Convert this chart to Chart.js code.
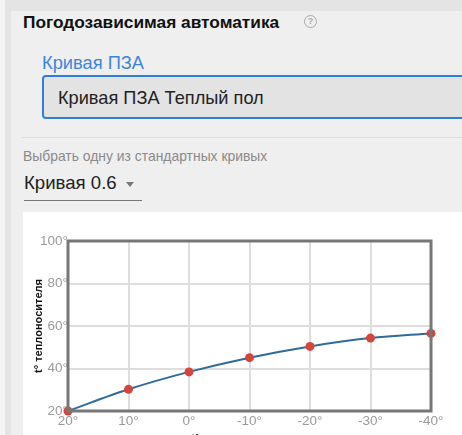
<!DOCTYPE html>
<html lang="ru">
<head>
<meta charset="utf-8">
<script src="https://cdn.jsdelivr.net/npm/chart.js@4/dist/chart.umd.min.js"></script>
<style>
  html, body { margin: 0; padding: 0; }
  body {
    width: 462px; height: 435px; overflow: hidden; position: relative;
    background: #e4e4e4; font-family: "Liberation Sans", Arial, sans-serif;
  }
  .strip { position: absolute; left: 0; top: 0; width: 5px; height: 435px; background: #f3f3f3; }
  .panel { position: absolute; left: 11px; top: 11px; right: 0; bottom: 0; background: #efefef; }
  .abs { position: absolute; white-space: nowrap; line-height: 1; }
  #title { left: 23px; top: 14px; font-size: 17.3px; font-weight: bold; color: #111; }
  #help {
    left: 304px; top: 15px; width: 11px; height: 11px; border: 1.5px solid #aaa; border-radius: 50%;
    font-size: 9px; font-weight: bold; color: #aaa; text-align: center; line-height: 11px;
  }
  #curveLabel { left: 42px; top: 54px; font-size: 18.3px; color: #3d86d6; }
  #curveBox {
    left: 42px; top: 75px; width: 440px; height: 44px; border: 2px solid #2f7fd8; border-radius: 4px;
    background: #e3e3e3; box-sizing: border-box;
  }
  #curveValue { left: 58px; top: 89px; font-size: 18.2px; color: #222; }
  #divider { left: 22px; top: 137px; width: 440px; height: 1px; background: #dcdcdc; }
  #hint { left: 23px; top: 150px; font-size: 13.9px; color: #8a8a8a; }
  #preset { left: 24px; top: 174px; font-size: 18.6px; color: #222; }
  #arrow {
    left: 126px; top: 182px; width: 0; height: 0;
    border-left: 4.5px solid transparent; border-right: 4.5px solid transparent; border-top: 5px solid #777;
  }
  #underline { left: 24px; top: 200px; width: 118px; height: 1px; background: #777; }
  #chartBox { position: absolute; left: 23px; top: 212px; width: 439px; height: 238px; background: #fff; }
</style>
</head>
<body>
<div class="strip"></div>
<div class="panel"></div>
<div class="abs" id="title">Погодозависимая автоматика</div>
<div class="abs" id="help">?</div>
<div class="abs" id="curveLabel">Кривая ПЗА</div>
<div class="abs" id="curveBox"></div>
<div class="abs" id="curveValue">Кривая ПЗА Теплый пол</div>
<div class="abs" id="divider"></div>
<div class="abs" id="hint">Выбрать одну из стандартных кривых</div>
<div class="abs" id="preset">Кривая 0.6</div>
<div class="abs" id="arrow"></div>
<div class="abs" id="underline"></div>
<div id="chartBox"><canvas id="chart"></canvas></div>
<script>
// outdoor temperature (x) and supply temperature (y) for curve 0.6
const outdoorTemps = ["20°", "10°", "0°", "-10°", "-20°", "-30°", "-40°"];
const supplyTemps = [20, 30.2, 38.4, 45.1, 50.4, 54.3, 56.5];
const yTicks = [20, 40, 60, 80, 100];

const tickFont = { family: "Liberation Sans", size: 13.5 };
const titleFont = { family: "Liberation Sans", size: 11, weight: "bold" };

// dark frame around the plot area
const frame = {
  id: "frame",
  afterDatasetsDraw(c) {
    const { ctx, chartArea: a } = c;
    ctx.save();
    ctx.strokeStyle = "#777";
    ctx.lineWidth = 3;
    ctx.strokeRect(a.left, a.top, a.right - a.left, a.bottom - a.top);
    ctx.restore();
  },
};

new Chart(document.getElementById("chart").getContext("2d"), {
  type: "line",
  data: {
    labels: outdoorTemps,
    datasets: [{
      data: supplyTemps,
      borderColor: "#2f6b9a",
      borderWidth: 2,
      cubicInterpolationMode: "monotone",
      pointRadius: 4.5,
      pointBackgroundColor: "#d4453a",
      pointBorderColor: "#d4453a",
      pointBorderWidth: 0,
      clip: false,
    }],
  },
  options: {
    responsive: true,
    maintainAspectRatio: false,
    animation: false,
    layout: { padding: { top: 29, right: 31, left: 0, bottom: 0 } },
    plugins: { legend: { display: false }, tooltip: { enabled: false } },
    scales: {
      x: {
        offset: false,
        grid: { color: "#dedede", lineWidth: 2, drawTicks: false },
        border: { display: false },
        ticks: { color: "#9a9a9a", font: tickFont, padding: 2, maxRotation: 0, autoSkip: false },
        title: { display: true, text: "t° наружного воздуха", color: "#111", font: titleFont,
                 padding: { top: 4, bottom: 4 } },
        afterFit: (s) => { s.height = 39; },
      },
      y: {
        min: yTicks[0],
        max: yTicks[yTicks.length - 1],
        afterBuildTicks: (s) => { s.ticks = yTicks.map((v) => ({ value: v })); },
        grid: { color: "#dedede", lineWidth: 2, drawTicks: false },
        border: { display: false },
        ticks: { color: "#9a9a9a", font: tickFont, padding: 0, callback: (v) => v + "°" },
        title: { display: true, text: "t° теплоносителя", color: "#111", font: titleFont,
                 padding: { top: 9, bottom: 0 } },
        afterFit: (s) => { s.width = 45; },
      },
    },
  },
  plugins: [frame],
});
</script>
</body>
</html>
